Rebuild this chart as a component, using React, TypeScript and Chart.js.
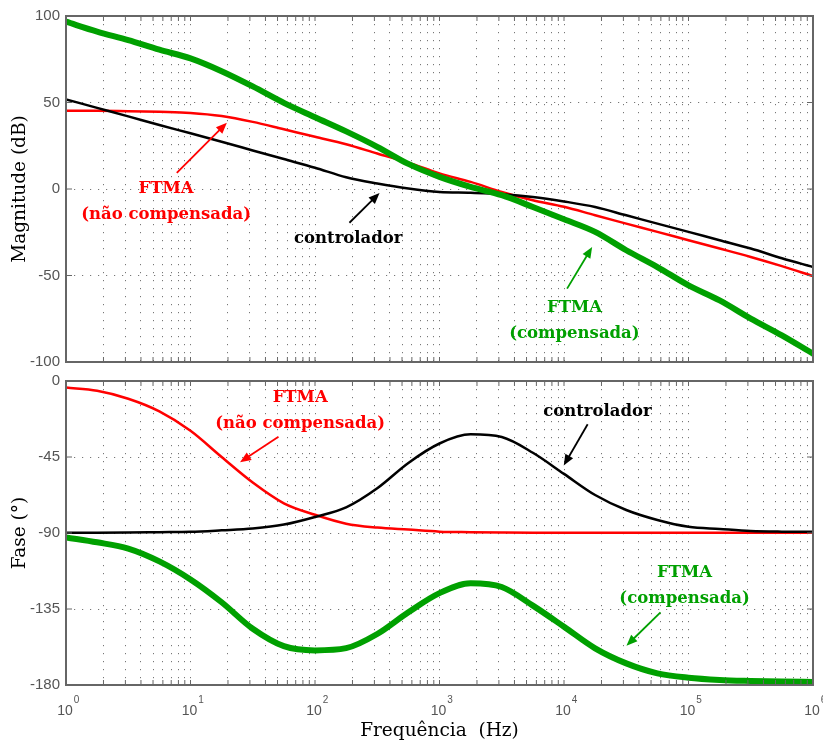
import React, { useEffect, useRef } from 'react';
import { Chart, registerables } from 'chart.js';

Chart.register(...registerables);

// ---------- data ----------
const freqHz = [1, 1.778, 3.162, 5.623, 10, 17.78, 31.62, 56.23, 100, 177.8, 316.2, 562.3, 1000, 1778, 3162, 5623, 10000, 17783, 31623, 56234, 100000, 177828, 316228, 562341, 1000000];

const magNaoCompensada = [45.2, 45.2, 45.0, 44.6, 44.0, 42.2, 38.8, 34.5, 30.2, 25.9, 20.5, 15.2, 9.0, 4.1, -1.7, -6.5, -10.3, -15.2, -20.0, -24.8, -29.6, -34.4, -39.3, -44.6, -50.3];
const magControlador = [51.8, 46.9, 42.0, 37.0, 32.2, 27.3, 22.3, 17.3, 12.3, 6.8, 3.2, 0.3, -1.7, -2.2, -3.0, -4.6, -7.2, -10.4, -15.2, -20.0, -24.8, -29.6, -34.4, -40.0, -45.1];
const magCompensada = [96.7, 91.0, 86.0, 80.5, 75.5, 68.1, 59.3, 49.8, 41.5, 33.3, 24.4, 14.5, 7.0, 1.2, -3.6, -10.4, -17.5, -24.8, -35.4, -45.1, -55.7, -64.4, -74.9, -84.6, -95.2];

const phaseNaoCompensada = [-3.9, -5.8, -10.5, -18.0, -29.5, -45.0, -60.1, -72.4, -79.2, -84.5, -86.8, -88.0, -89.2, -89.5, -89.7, -89.8, -89.8, -89.9, -89.9, -89.9, -89.9, -89.9, -89.9, -89.9, -89.9];
const phaseControlador = [-89.8, -89.8, -89.7, -89.5, -89.3, -88.4, -87.3, -85.0, -80.5, -74.8, -63.5, -48.5, -37.0, -31.6, -33.2, -42.5, -55.0, -67.5, -76.4, -82.3, -86.3, -87.6, -88.8, -89.2, -89.3];
const phaseCompensada = [-92.6, -95.5, -99.2, -106.8, -117.5, -131.0, -146.7, -157.0, -159.5, -158.2, -149.8, -136.9, -125.6, -119.8, -122.0, -133.0, -145.5, -158.3, -167.2, -173.1, -175.7, -177.0, -177.6, -178.0, -178.2];

const magTicks = [-100, -50, 0, 50, 100];
const phaseTicks = [-180, -135, -90, -45, 0];
const decadeTicks = [1, 10, 100, 1000, 10000, 100000, 1000000];
const decadeExponents = ['0', '1', '2', '3', '4', '5', '6'];
const minorMultipliers = [1, 2, 3, 4, 5, 6, 7, 8, 9];

const RED = '#ff0000';
const BLACK = '#000000';
const GREEN = '#00a000';

// annotations: [frequency, value]
const magNotes = [
  { lines: ['FTMA', '(não compensada)'], at: [6.37, -7.1], color: RED },
  { lines: ['controlador'], at: [185, -28.5], color: BLACK },
  { lines: ['FTMA', '(compensada)'], at: [12130, -75.9], color: GREEN },
];
const magArrows = [
  { from: [7.76, 9.3], to: [19.6, 38.3], color: RED },
  { from: [189, -19.5], to: [330, -2.3], color: BLACK },
  { from: [10590, -57.6], to: [16830, -33.5], color: GREEN },
];
const phaseNotes = [
  { lines: ['FTMA', '(não compensada)'], at: [76, -17.8], color: RED },
  { lines: ['controlador'], at: [18550, -18.4], color: BLACK },
  { lines: ['FTMA', '(compensada)'], at: [92900, -121.4], color: GREEN },
];
const phaseArrows = [
  { from: [50.9, -33.0], to: [25.0, -48.1], color: RED },
  { from: [15490, -25.6], to: [9950, -50.1], color: BLACK },
  { from: [59560, -137], to: [31740, -156.7], color: GREEN },
];

// ---------- styling ----------
const GRID = 'rgba(95,95,95,0.85)';
const GRID_DASH = [1.2, 6.8];
const AXIS = '#666666';
const TICK = '#555555';
const SERIF = "'DejaVu Serif', serif";
const SANS = "'Liberation Sans', Arial, sans-serif";

const gridValues: number[] = [];
decadeTicks.slice(0, -1).forEach((d) => minorMultipliers.forEach((m) => gridValues.push(d * m)));
gridValues.push(1000000);

function overlay(notes: any[], arrows: any[], xLabels: boolean) {
  return {
    id: 'overlay',
    afterDraw(chart: any) {
      const { ctx, chartArea: a, scales } = chart;
      const xs = scales.x;
      const ys = scales.y;
      ctx.save();
      ctx.strokeStyle = AXIS;
      ctx.lineWidth = 1;
      ctx.setLineDash([]);
      const seg = (x1: number, y1: number, x2: number, y2: number) => {
        ctx.beginPath();
        ctx.moveTo(x1, y1);
        ctx.lineTo(x2, y2);
        ctx.stroke();
      };
      xs.ticks.forEach((t: any) => {
        const px = xs.getPixelForValue(t.value);
        seg(px, a.bottom, px, a.bottom - 5);
        seg(px, a.top, px, a.top + 5);
      });
      ys.ticks.forEach((t: any) => {
        const py = ys.getPixelForValue(t.value);
        seg(a.left, py, a.left + 6, py);
        seg(a.right, py, a.right - 6, py);
      });
      ctx.lineWidth = 2;
      ctx.strokeRect(a.left, a.top, a.right - a.left, a.bottom - a.top);

      if (xLabels) {
        decadeTicks.forEach((v, i) => {
          const px = xs.getPixelForValue(v);
          ctx.fillStyle = TICK;
          ctx.font = `14px ${SANS}`;
          ctx.textAlign = 'center';
          ctx.textBaseline = 'middle';
          ctx.fillText('10', px - 1, a.bottom + 26);
          const w = ctx.measureText('10').width;
          ctx.font = `10px ${SANS}`;
          ctx.textAlign = 'left';
          ctx.fillText(decadeExponents[i], px - 1 + w / 2 + 1, a.bottom + 15);
        });
      }

      notes.forEach((n) => {
        const px = xs.getPixelForValue(n.at[0]);
        const py = ys.getPixelForValue(n.at[1]);
        ctx.fillStyle = n.color;
        ctx.font = `bold 16.5px ${SERIF}`;
        ctx.textAlign = 'center';
        ctx.textBaseline = 'middle';
        const lh = 26;
        const y0 = py - ((n.lines.length - 1) * lh) / 2;
        n.lines.forEach((l: string, i: number) => ctx.fillText(l, px, y0 + i * lh));
      });
      arrows.forEach((ar) => {
        const x1 = xs.getPixelForValue(ar.from[0]);
        const y1 = ys.getPixelForValue(ar.from[1]);
        const x2 = xs.getPixelForValue(ar.to[0]);
        const y2 = ys.getPixelForValue(ar.to[1]);
        const ang = Math.atan2(y2 - y1, x2 - x1);
        const hl = 11;
        const hw = 4.5;
        ctx.strokeStyle = ar.color;
        ctx.fillStyle = ar.color;
        ctx.lineWidth = 1.8;
        ctx.beginPath();
        ctx.moveTo(x1, y1);
        ctx.lineTo(x2 - Math.cos(ang) * hl * 0.8, y2 - Math.sin(ang) * hl * 0.8);
        ctx.stroke();
        ctx.beginPath();
        ctx.moveTo(x2, y2);
        ctx.lineTo(x2 - Math.cos(ang) * hl - Math.sin(ang) * hw, y2 - Math.sin(ang) * hl + Math.cos(ang) * hw);
        ctx.lineTo(x2 - Math.cos(ang) * hl + Math.sin(ang) * hw, y2 - Math.sin(ang) * hl - Math.cos(ang) * hw);
        ctx.closePath();
        ctx.fill();
      });
      ctx.restore();
    },
  };
}

function series(values: number[], color: string, width: number) {
  return {
    data: freqHz.map((f, i) => ({ x: f, y: values[i] })),
    borderColor: color,
    backgroundColor: color,
    borderWidth: width,
    pointRadius: 0,
    cubicInterpolationMode: 'monotone',
    borderCapStyle: 'round',
    borderJoinStyle: 'round',
    fill: false,
  };
}

function makeConfig(p: any): any {
  return {
    type: 'line',
    data: {
      datasets: [
        series(p.comp, GREEN, 6),
        series(p.ctrl, BLACK, 2.5),
        series(p.nao, RED, 2.5),
      ],
    },
    options: {
      responsive: false,
      animation: false,
      events: [],
      layout: { padding: { top: p.padTop, right: 10, left: 0, bottom: 0 } },
      plugins: { legend: { display: false }, tooltip: { enabled: false }, title: { display: false } },
      scales: {
        x: {
          type: 'logarithmic',
          min: 1,
          max: 1000000,
          afterBuildTicks: (s: any) => {
            s.ticks = gridValues.map((v) => ({ value: v, major: decadeTicks.includes(v) }));
          },
          ticks: { display: false },
          grid: { color: GRID, lineWidth: 1, drawTicks: false },
          border: { display: false, dash: GRID_DASH },
          title: p.xTitle
            ? { display: true, text: p.xTitle, color: '#000', font: { family: SERIF, size: 18.5 }, padding: { top: 0, bottom: 2 } }
            : { display: false },
          afterFit: (s: any) => {
            s.height = p.xHeight;
            s.paddingLeft = 0;
            s.paddingRight = 0;
            s.paddingTop = 0;
            s.paddingBottom = 0;
          },
        },
        y: {
          min: p.yMin,
          max: p.yMax,
          afterBuildTicks: (s: any) => {
            s.ticks = p.yTicks.map((v: number) => ({ value: v }));
          },
          ticks: { color: TICK, font: { family: SANS, size: 15 }, padding: 6 },
          grid: { color: GRID, lineWidth: 1, drawTicks: false },
          border: { display: false, dash: GRID_DASH },
          title: { display: true, text: p.yTitle, color: '#000', font: { family: SERIF, size: 18.5 }, padding: { top: 9, bottom: 0 } },
          afterFit: (s: any) => {
            s.width = 66;
            s.paddingLeft = 0;
            s.paddingRight = 0;
            s.paddingTop = 0;
            s.paddingBottom = 0;
          },
        },
      },
    },
    plugins: [overlay(p.notes, p.arrows, p.xLabels)],
  };
}

export default function App() {
  const magRef = useRef<HTMLCanvasElement>(null);
  const phaseRef = useRef<HTMLCanvasElement>(null);

  useEffect(() => {
    const c1 = new Chart(
      magRef.current as HTMLCanvasElement,
      makeConfig({
        comp: magCompensada,
        ctrl: magControlador,
        nao: magNaoCompensada,
        yMin: -100,
        yMax: 100,
        yTicks: magTicks,
        yTitle: 'Magnitude (dB)',
        padTop: 16,
        xHeight: 10,
        notes: magNotes,
        arrows: magArrows,
        xLabels: false,
      })
    );
    const c2 = new Chart(
      phaseRef.current as HTMLCanvasElement,
      makeConfig({
        comp: phaseCompensada,
        ctrl: phaseControlador,
        nao: phaseNaoCompensada,
        yMin: -180,
        yMax: 0,
        yTicks: phaseTicks,
        yTitle: 'Fase (°)',
        padTop: 9,
        xHeight: 59,
        xTitle: 'Frequência  (Hz)',
        notes: phaseNotes,
        arrows: phaseArrows,
        xLabels: true,
      })
    );
    return () => {
      c1.destroy();
      c2.destroy();
    };
  }, []);

  return (
    <div style={{ position: 'absolute', left: 0, top: 0, width: 823, height: 744, background: '#ffffff' }}>
      <canvas ref={magRef} width={823} height={372} style={{ position: 'absolute', left: 0, top: 0 }} />
      <canvas ref={phaseRef} width={823} height={372} style={{ position: 'absolute', left: 0, top: 372 }} />
    </div>
  );
}
